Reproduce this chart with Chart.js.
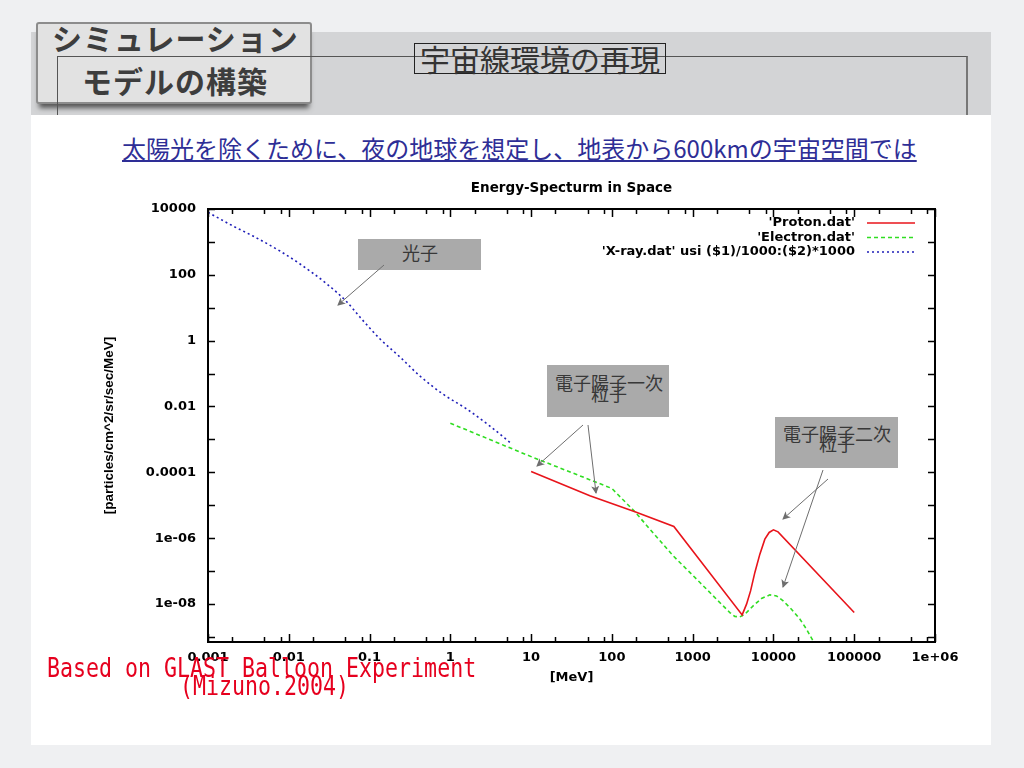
<!DOCTYPE html>
<html><head><meta charset="utf-8">
<script src="https://cdn.jsdelivr.net/npm/chart.js@4.4.1/dist/chart.umd.min.js"></script>
<style>
html,body{margin:0;padding:0;}
body{width:1024px;height:768px;overflow:hidden;background:#eff0f2;position:relative;font-family:"Noto Sans CJK JP",sans-serif;}
.abs{position:absolute;white-space:nowrap;}
.band{left:31px;top:32px;width:960px;height:83px;background:#d3d4d6;}
.logo{left:36px;top:22px;width:272px;height:78px;background:#e2e2e2;border:2px solid #8c8c8c;border-radius:3px;box-shadow:0 7px 5px -3px #555;}
.logo1{left:52px;top:21px;font-size:30px;line-height:32px;font-weight:bold;color:#3d3d3d;letter-spacing:1px;}
.logo2{left:82px;top:64px;font-size:30px;line-height:32px;font-weight:bold;color:#3d3d3d;letter-spacing:1px;}
.frame{left:57px;top:56px;width:908px;height:58px;border-top:1px solid #555;border-left:1px solid #555;border-right:2px solid #777;}
.panel{left:31px;top:115px;width:960px;height:630px;background:#fff;}
.htitle{left:414px;top:43px;width:250px;height:29px;border:1px solid #222;font-size:30px;line-height:29px;color:#333;text-align:center;}
.sub{left:122px;top:136px;font-size:24px;line-height:24px;color:#2e2e96;text-decoration:underline;}
.note{background:#aaaaaa;}
.nt{font-size:18px;line-height:18px;color:#383838;}
.src{color:#e6001e;font-family:"DejaVu Sans Mono",monospace;font-size:27px;line-height:27px;transform-origin:left top;transform:scaleX(0.8);}
canvas{position:absolute;left:0;top:0;}
svg{position:absolute;left:0;top:0;}
</style></head>
<body>
<div class="abs band"></div>
<div class="abs logo"></div>
<div class="abs logo1">シミュレーション</div>
<div class="abs logo2">モデルの構築</div>
<div class="abs frame"></div>
<div class="abs htitle">宇宙線環境の再現</div>
<div class="abs panel"></div>
<div class="abs sub">太陽光を除くために、夜の地球を想定し、地表から600kmの宇宙空間では</div>
<canvas id="c" width="1024" height="768"></canvas>
<div class="abs note" style="left:358px;top:239px;width:123px;height:31px;"></div>
<div class="abs note" style="left:547px;top:365px;width:122px;height:52px;"></div>
<div class="abs note" style="left:775px;top:417px;width:123px;height:51px;"></div>
<div class="abs nt" style="left:402px;top:243px;">光子</div>
<div class="abs nt" style="left:555px;top:373px;">電子陽子一次</div>
<div class="abs nt" style="left:591px;top:384px;">粒子</div>
<div class="abs nt" style="left:783px;top:424px;">電子陽子二次</div>
<div class="abs nt" style="left:819px;top:434px;">粒子</div>
<svg width="1024" height="768">
<defs><marker id="ah" markerWidth="8" markerHeight="8" refX="7" refY="4" orient="auto" markerUnits="userSpaceOnUse"><path d="M0,0 L8,4 L0,8 L2,4 z" fill="#6e6e6e"/></marker></defs>
<g stroke="#6e6e6e" stroke-width="1" fill="none">
<line x1="384" y1="265" x2="338" y2="305" marker-end="url(#ah)"/>
<line x1="583" y1="425" x2="537" y2="466" marker-end="url(#ah)"/>
<line x1="588" y1="425" x2="596" y2="493" marker-end="url(#ah)"/>
<line x1="828" y1="479" x2="783" y2="519" marker-end="url(#ah)"/>
<line x1="823" y1="470" x2="783" y2="587" marker-end="url(#ah)"/>
</g></svg>
<div class="abs src" style="left:47px;top:654px;">Based on GLAST Balloon Experiment</div>
<div class="abs src" style="left:180px;top:672px;">(Mizuno.2004)</div>
<script>
// ---- data ----
const energyTicks=[0.001,0.01,0.1,1,10,100,1000,10000,100000,1000000];
const energyTickLabels=['0.001','0.01','0.1','1','10','100','1000','10000','100000','1e+06'];
const fluxTicks=[1e4,1e2,1,1e-2,1e-4,1e-6,1e-8];
const fluxTickLabels=['10000','100','1','0.01','0.0001','1e-06','1e-08'];

const protonE=[10,53.4,193,585,4100,4645,5210,5890,6790,7830,8850,10000,11400,100000];
const protonF=[1.06e-4,1.93e-5,6.3e-6,2.27e-6,4.67e-9,9.9e-9,2.5e-8,9.1e-8,3.27e-7,9.3e-7,1.49e-6,1.79e-6,1.55e-6,5.5e-9];

const electronE=[1,10,100,193,295,574,1230,1795,2385,2885,3330,3840,4430,5610,7120,9020,10900,13200,16700,21300,25700,31000,40000];
const electronF=[3.1e-3,3.0e-4,3.24e-5,6.3e-6,1.88e-6,2.9e-7,4.5e-8,1.76e-8,8.75e-9,5.5e-9,4.17e-9,4.06e-9,4.9e-9,8.75e-9,1.47e-8,1.89e-8,1.76e-8,1.24e-8,6.95e-9,3.45e-9,1.71e-9,7.5e-10,2.7e-10];

const xrayE=[0.001,0.00204,0.0036,0.00778,0.0138,0.0297,0.0525,0.076,0.135,0.238,0.421,0.81,1.6,3.09,5.8];
const xrayF=[7940,3040,1510,528,213,52.5,14.9,5.2,1.12,0.318,0.084,0.0238,0.00834,0.00254,0.00072];

const seriesNames=["'Proton.dat'","'Electron.dat'","'X-ray.dat' usi ($1)/1000:($2)*1000"];
const chartTitle='Energy-Specturm in Space';
const xTitle='[MeV]';
const yTitle='[particles/cm^2/sr/sec/MeV]';

const pts=(xs,ys)=>xs.map((v,i)=>({x:v,y:ys[i]}));
const boldFont=(s)=>({family:'DejaVu Sans',weight:'bold',size:s});

const framePlugin={
  id:'framePlugin',
  afterDatasetsDraw(chart){
    const {ctx,chartArea:a,scales:{x,y}}=chart;
    ctx.save();
    ctx.strokeStyle='#000';
    ctx.lineWidth=1.5;
    ctx.beginPath();
    for(let d=-3;d<=6;d++){
      for(const m of [1,2,5,8]){
        const v=m*Math.pow(10,d);
        if(v>1e6*1.001) continue;
        const px=Math.round(x.getPixelForValue(v))+0.5;
        const len=m===1?8:5;
        ctx.moveTo(px,a.bottom);ctx.lineTo(px,a.bottom-len);
        ctx.moveTo(px,a.top);ctx.lineTo(px,a.top+len);
      }
    }
    for(let d=-9;d<=4;d++){
      const v=Math.pow(10,d);
      if(v<y.min) continue;
      const py=Math.round(y.getPixelForValue(v))+0.5;
      ctx.moveTo(a.left,py);ctx.lineTo(a.left+7,py);
      ctx.moveTo(a.right,py);ctx.lineTo(a.right-7,py);
    }
    ctx.stroke();
    ctx.lineWidth=2;
    ctx.strokeRect(a.left,a.top,a.right-a.left,a.bottom-a.top);
    // title
    ctx.fillStyle='#000';
    ctx.font='bold 13.5px "DejaVu Sans"';
    ctx.textAlign='center';ctx.textBaseline='middle';
    ctx.fillText(chartTitle,(a.left+a.right)/2,a.top-21);
    // legend
    ctx.font='bold 13px "DejaVu Sans"';
    ctx.textAlign='right';
    chart.data.datasets.forEach((ds,i)=>{
      const ly=a.top+14+i*14.5;
      ctx.fillStyle='#000';
      ctx.fillText(ds.label,a.right-80,ly);
      ctx.beginPath();
      ctx.strokeStyle=ds.borderColor;ctx.lineWidth=1.5;
      ctx.setLineDash(ds.borderDash||[]);
      ctx.moveTo(a.right-68,ly);ctx.lineTo(a.right-20,ly);
      ctx.stroke();
      ctx.setLineDash([]);
    });
    ctx.restore();
  }
};

new Chart(document.getElementById('c'),{
  type:'line',
  data:{datasets:[
    {label:seriesNames[0],data:pts(protonE,protonF),borderColor:'#e8141b',borderWidth:1.6,pointRadius:0,tension:0,fill:false},
    {label:seriesNames[1],data:pts(electronE,electronF),borderColor:'#30dd22',borderDash:[4,3],borderWidth:1.6,pointRadius:0,tension:0,fill:false},
    {label:seriesNames[2],data:pts(xrayE,xrayF),borderColor:'#1f1fb8',borderDash:[2,3],borderWidth:1.6,pointRadius:0,cubicInterpolationMode:'monotone',fill:false}
  ]},
  options:{
    responsive:false,animation:false,devicePixelRatio:1,
    layout:{padding:{left:97,right:89,top:209,bottom:79}},
    plugins:{legend:{display:false},tooltip:{enabled:false},title:{display:false}},
    scales:{
      x:{type:'logarithmic',min:0.001,max:1e6,
        afterBuildTicks:s=>{s.ticks=energyTicks.map(v=>({value:v}));},
        afterFit:s=>{s.height=47;},
        grid:{display:false,drawTicks:false},border:{display:false},
        ticks:{autoSkip:false,maxRotation:0,padding:8,color:'#000',font:boldFont(13),
          callback:(v)=>{const i=energyTicks.findIndex(t=>Math.abs(t-v)/t<1e-6);return i>=0?energyTickLabels[i]:'';}},
        title:{display:true,text:xTitle,color:'#000',font:boldFont(13),padding:{top:0,bottom:4}}
      },
      y:{type:'logarithmic',min:7e-10,max:1e4,
        afterBuildTicks:s=>{s.ticks=fluxTicks.map(v=>({value:v}));},
        afterFit:s=>{s.width=111;},
        grid:{display:false,drawTicks:false},border:{display:false},
        ticks:{autoSkip:false,padding:12,color:'#000',font:boldFont(13),
          callback:(v)=>{const i=fluxTicks.findIndex(t=>Math.abs(t-v)/t<1e-6);return i>=0?fluxTickLabels[i]:'';}},
        title:{display:true,text:yTitle,color:'#000',font:{family:'Liberation Sans',weight:'bold',size:13.5},padding:{top:4,bottom:0}}
      }
    }
  },
  plugins:[framePlugin]
});
</script>
</body></html>
